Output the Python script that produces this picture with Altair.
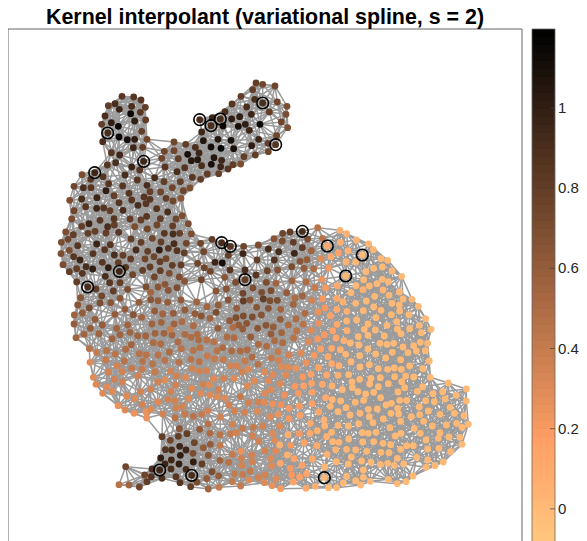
import numpy as np
import pandas as pd
import altair as alt

TITLE = "Kernel interpolant (variational spline, s = 2)"

# Node readings, (x, y, value) in 3x-crop units of the picture, by crop.
ear_left = [(216,109,.85),(251,111,.85),(273,120,.85),(175,137,.8),(195,131,.9),(245,139,.9),(286,142,.8),(208,148,.95),(271,157,.85),(165,168,.9),(242,161,1.15),(287,180,.8),(184,188,1.0),(254,183,1),(155,193,.8),(205,199,1.15),(275,214,.8),(173,219,.9),(207,231,1.15),(158,245,.9),(232,239,1.1),(254,238,1),(291,238,.75),(184,278,.85),(250,263,.95),(209,285,.95),(278,262,.8),(197,308,.9),(172,315,.85),(245,321,.95),(281,304,.95),(269,330,.85)]
ear_right = [(618,69,.8),(638,73,.75),(675,78,.75),(608,89,.8),(573,109,.8),(614,118,.9),(638,129,.9),(682,126,.75),(546,132,.85),(590,141,.9),(711,139,.7),(658,156,.8),(708,163,.7),(525,155,.9),(604,163,.95),(487,173,.95),(511,177,.9),(449,179,.9),(545,177,1.0),(569,170,1),(694,186,.75),(630,193,1.15),(483,197,.9),(519,198,1.15),(565,199,1.1),(586,193,1),(713,203,.7),(598,211,.95),(455,216,.95),(680,227,.75),(626,238,.95),(543,241,1.1),(504,238,1.05),(460,242,1.05),(677,254,.85),(654,250,.8),(605,257,1.0),(372,246,.75),(407,253,.8),(436,262,.9),(483,261,1.1),(513,265,1.2),(551,266,1.1),(655,275,.75),(616,285,.8),(582,290,.8),(343,274,.75),(372,272,.75),(413,283,1.1),(447,279,.95),(492,293,1.05),(443,299,1.05),(424,302,1.05),(515,301,.95),(335,295,.75),(385,296,.8),(350,301,.8),(572,312,.7),(549,314,.8),(534,327,.85),(484,313,1.1),(512,320,.95),(455,317,.9),(345,321,.85),(404,323,.85),(381,335,.9),(472,342,.8),(506,341,.8),(427,352,.85),(452,358,.8)]
head = [(134,338,.95),(96,344,.7),(159,350,.85),(314,353,.9),(225,345,.9),(262,360,.85),(72,379,.75),(100,383,.9),(123,383,.85),(176,371,.85),(218,378,.85),(342,365,.8),(291,376,.9),(391,365,.8),(168,392,1.0),(367,383,.75),(420,384,.7),(141,413,.95),(237,400,.85),(300,395,.8),(332,396,.75),(400,392,.75),(95,417,.9),(59,421,.7),(192,407,.8),(282,411,.85),(348,415,.8),(107,440,.85),(207,428,.85),(245,420,.85),(300,418,.85),(369,423,.75),(264,436,.9),(140,445,.95),(161,444,.85),(180,452,.8),(320,446,.85),(72,452,.75),(219,451,.9),(288,431,.85),(353,456,.9),(65,477,.7),(290,469,.85),(397,467,.7),(150,481,.85),(240,477,.8),(273,480,.8),(117,491,.95),(95,499,.8),(331,476,.8),(193,495,.8),(254,500,.7),(321,495,.75),(292,507,.75),(368,498,.8),(415,491,.7),(47,516,.7),(206,517,.85),(114,520,.8),(135,514,.8),(70,524,.8),(168,519,.8),(343,520,.85),(369,522,.9),(389,520,.8),(279,516,.75),(54,538,.75),(34,547,.7),(243,537,.8),(424,522,.7),(140,552,.95),(181,554,.85),(273,547,.8),(372,551,.9),(409,550,.75),(83,557,.85),(355,565,.85),(164,569,.85),(258,570,.9),(293,574,.8),(328,570,1.0),(33,581,.7),(129,581,.85),(193,585,.9),(403,579,.8),(71,590,.85),(242,597,.8),(219,586,.8),(90,600,.95),(285,597,.75),(348,596,.75),(39,614,.7),(157,607,.85),(108,620,.9),(205,608,.8),(443,610,.75),(128,627,1.0),(58,635,.8),(175,623,1.0),(300,621,.8),(97,640,.85),(208,634,.95),(248,644,.75),(278,631,.8),(331,632,.8),(463,623,.75),(166,649,.9),(358,640,.7),(481,634,.75),(80,666,.8),(179,668,.85),(227,622,.85),(313,651,.75),(388,651,.7),(113,681,.9),(138,687,.8),(324,681,.65),(404,664,.65),(190,693,.8),(233,688,.7),(288,681,.7),(355,691,.65),(381,683,.7),(92,713,.65),(155,708,.75),(210,715,.65),(267,727,.6),(302,719,.65),(324,722,.6),(393,720,.6),(353,727,.6),(150,729,.7),(83,735,.65),(225,748,.6),(293,730,.65),(440,726,.55),(73,765,.55),(97,759,.6),(195,763,.6),(314,753,.6),(370,760,.6),(405,750,.6),(338,762,.55),(275,772,.55),(135,778,.6)]
neck = [(515,548,.9),(541,559,.85),(486,538,.8),(452,550,.75),(581,559,.75),(625,555,.7),(672,536,.65),(697,543,.7),(698,520,.75),(720,516,.8),(757,514,.9),(773,537,.7),(730,547,.8),(655,567,.9),(686,575,.9),(733,580,.95),(757,563,.8),(579,581,.95),(535,586,.8),(461,575,.75),(750,604,.65),(771,599,.6),(621,600,.8),(495,607,.95),(517,609,1.1),(540,630,.85),(652,632,.75),(683,630,.65),(725,620,.7),(762,625,.6),(585,659,.8),(557,667,.7),(524,652,.65),(649,667,.7),(454,659,.75),(609,684,.7),(678,670,.55),(726,662,.55),(529,687,.65),(498,693,.65),(579,700,.75),(635,697,.7),(663,692,.7),(735,714,.5),(757,708,.55),(600,720,.65),(471,740,.55),(505,735,.6),(535,720,.65),(560,745,.6),(692,748,.55),(620,742,.65),(655,745,.65),(730,733,.55),(765,760,.5),(480,775,.55)]
body = [(187,35,.9),(233,23,.45),(150,35,.8),(128,37,.85),(102,55,.8),(128,61,.9),(163,66,.9),(203,57,.55),(248,55,.45),(54,76,.8),(12,79,.85),(85,87,.9),(116,96,.95),(178,83,.75),(8,101,.95),(164,100,.9),(214,92,.55),(262,78,.1),(300,31,.05),(320,41,.05),(301,67,.05),(349,60,.03),(386,72,.02),(400,89,.02),(324,92,.05),(295,99,.15),(273,110,.1),(367,105,0),(243,116,.3),(211,118,.55),(189,124,.6),(51,119,.85),(103,120,.85),(347,126,0),(318,126,.05),(423,116,0),(443,121,0),(221,146,.5),(199,150,.5),(155,142,.7),(267,144,.2),(378,155,0),(401,145,0),(427,141,0),(111,150,.75),(81,152,.75),(15,150,.9),(48,165,.85),(317,168,.02),(456,153,0),(485,169,0),(245,178,.25),(153,183,.65),(198,186,.5),(371,179,0),(427,178,0),(445,185,0),(80,187,.75),(15,180,.9),(45,202,.8),(122,198,.65),(292,197,.1),(257,203,.2),(224,203,.4),(411,191,0),(388,198,0),(348,197,0),(333,218,0),(478,216,0),(93,212,.75),(140,218,.6),(2,217,.85),(447,226,0),(404,229,0),(183,232,.55),(163,235,.6),(215,241,.35),(248,236,.2),(291,235,.1),(516,238,0),(489,237,0),(379,243,0),(309,246,.05),(70,237,.8),(90,242,.7),(112,241,.7),(10,243,.8),(33,255,.7),(154,252,.6),(347,250,0),(456,250,0),(535,259,0),(197,281,.5),(234,276,.25),(255,264,.2),(291,268,.1),(321,274,.05),(423,271,0),(454,284,0),(507,284,0),(479,273,0),(370,272,0),(401,261,0),(122,268,.55),(89,271,.6),(64,285,.65),(10,288,.7),(37,291,.7),(168,297,.5),(271,287,.15),(350,300,0),(320,303,.02),(408,293,0),(384,312,0),(557,296,0),(121,298,.6),(145,315,.5),(190,313,.45),(236,310,.25),(291,313,.1),(441,316,0),(470,305,0),(538,316,0),(509,326,0),(78,316,.65),(100,321,.6),(20,310,.65),(53,325,.65),(8,327,.6),(573,328,0),(214,331,.3),(321,332,.05),(406,330,0),(544,338,0),(483,341,0),(170,333,.45),(125,338,.55),(93,342,.6),(278,332,.15),(253,344,.2),(373,328,0),(355,350,0),(384,346,0),(494,351,0),(433,348,0),(32,351,.6),(161,354,.45),(233,357,.2),(288,354,.1),(312,362,.05),(563,370,0),(541,367,0),(521,377,0),(461,370,0),(420,370,0),(441,373,0),(384,387,0),(104,362,.5),(128,368,.5),(205,365,.3),(55,373,.5),(80,379,.5),(489,381,0),(331,369,0),(357,375,0),(242,387,.15),(275,385,.1),(301,389,.05),(407,402,0),(457,397,0),(504,398,0),(556,392,0),(529,393,0),(317,403,.02),(22,390,.5),(1,393,.5),(114,395,.4),(147,405,.35),(183,399,.3),(359,407,0),(222,406,.2),(264,410,.1),(437,414,0),(482,419,0),(36,411,.5),(94,414,.4),(15,423,.4),(54,433,.45),(116,421,.35),(198,428,.25),(333,425,.02),(568,423,0),(236,443,.15),(275,431,.1),(297,437,.05),(388,434,0),(509,438,0),(360,441,0),(125,440,.3),(145,442,.3),(167,445,.25),(326,437,0),(463,444,0),(443,448,0),(415,446,0),(549,446,0),(6,456,.35),(73,456,.3),(99,464,.3),(188,471,.2),(213,463,.15),(260,465,.1),(294,466,.05),(326,464,0),(521,471,0),(497,468,0),(421,473,0),(393,475,0),(464,470,0),(137,465,.3),(571,472,0),(359,478,0),(22,498,.3),(42,483,.3),(85,482,.3),(120,491,.3),(165,499,.2),(191,498,.15),(215,490,.15),(247,493,.1),(276,498,.05),(625,489,0),(445,491,0),(389,492,0),(336,486,0),(679,507,0),(608,515,0),(579,521,0),(532,514,0),(494,503,0),(474,516,0),(401,517,0),(354,515,0),(307,509,0),(93,509,.3),(75,520,.3),(133,525,.25),(175,520,.2),(216,517,.15),(257,533,.1),(649,526,0),(615,537,0),(557,542,0),(500,541,0),(479,541,0),(422,533,0),(371,541,0),(346,547,0),(302,543,0),(277,539,.02),(679,543,0),(583,545,0),(54,546,.35),(73,547,.3),(98,552,.25),(25,548,.35),(1,530,.4),(147,565,.2),(123,554,.25),(178,558,.2),(216,551,.15),(318,563,0),(630,562,0),(538,561,0),(454,550,0),(13,577,.35),(52,574,.3),(90,590,.3),(114,583,.25),(147,596,.2),(180,586,.15),(236,576,.1),(294,575,0),(330,585,0),(412,567,0),(385,568,0),(360,580,0),(473,565,0),(600,583,0),(514,590,0),(453,580,0),(643,580,0),(672,587,0),(252,600,.05),(211,610,.1),(266,594,.03),(356,611,0),(430,597,0),(399,608,0),(551,604,0),(482,604,0),(523,625,0),(577,618,0),(619,615,0),(650,610,0),(685,613,0),(666,622,0),(40,622,.4),(8,625,.4),(68,618,.35),(119,618,.3),(178,641,.2),(232,632,.05),(210,640,.1),(247,626,.05),(294,616,.02),(325,618,0),(98,640,.3),(38,648,.35),(367,638,0),(408,637,0),(385,640,0),(450,623,0),(483,640,0),(627,651,0),(660,652,0),(558,660,0),(595,655,0),(56,664,.35),(105,661,.3),(192,668,.15),(326,657,0),(297,667,.03),(260,650,.05),(466,648,0),(429,670,0),(401,665,0),(368,666,0),(666,673,0),(520,677,0),(500,677,0),(463,662,0),(75,692,.35),(107,693,.3),(152,676,.2),(231,677,.1),(320,688,.02),(347,690,.02),(287,689,.03),(380,694,0),(632,695,0),(597,685,0),(563,687,0),(482,688,0),(35,705,.35),(162,716,.15),(217,717,.1),(261,703,.05),(423,697,0),(395,690,0),(530,712,0),(563,720,0),(610,726,0),(585,737,0),(92,715,.3),(36,725,.35),(186,736,.15),(151,745,.2),(95,737,.3),(289,725,.02),(393,727,0),(421,733,0),(443,730,0),(463,736,0),(491,732,0),(558,742,0),(370,750,0),(325,732,0),(8,763,.4),(30,753,.4),(55,773,.35),(75,765,.35),(73,788,.3),(108,776,.3),(155,765,.2),(179,771,.15),(200,761,.12),(253,773,.02),(320,769,0),(370,772,0),(347,782,0),(362,795,0),(391,784,0),(445,778,0),(519,768,0),(472,791,0),(498,785,0),(310,789,0),(290,803,0),(266,803,0),(226,799,.05),(198,805,.1),(160,786,.15),(122,806,.2),(96,797,.25),(2,798,.4)]
haunch = [(42,72,.6),(91,85,.6),(127,75,.6),(105,60,.65),(170,85,.55),(203,75,.55),(246,55,.6),(276,72,.55),(342,72,.55),(400,77,.5),(366,65,.5),(312,100,.55),(285,100,.55),(48,113,.55),(72,103,.55),(117,101,.55),(180,104,.55),(156,116,.55),(233,108,.55),(257,108,.55),(336,105,.55),(375,103,.5),(412,103,.5),(474,85,.6),(509,62,.6),(536,75,.6),(440,120,.45),(461,126,.45),(280,128,.5),(302,132,.5),(354,126,.5),(88,146,.45),(140,152,.45),(197,148,.5),(110,158,.4),(166,162,.45),(238,161,.45),(259,165,.45),(328,156,.5),(294,165,.45),(515,153,.5),(488,143,.5),(400,151,.45),(442,168,.4),(537,163,.45),(463,177,.4),(90,187,.3),(137,180,.4),(193,183,.45),(248,184,.45),(315,181,.45),(357,187,.45),(393,178,.45),(418,185,.45),(172,197,.35),(215,205,.4),(511,197,.35),(532,198,.35),(146,216,.35),(186,215,.35),(246,208,.4),(285,216,.4),(332,213,.35),(396,206,.35),(440,212,.35),(418,213,.35),(100,232,.3),(163,238,.35),(233,228,.35),(293,246,.35),(315,240,.3),(349,228,.35),(376,232,.3),(491,235,.35),(522,235,.3),(461,236,.3),(108,253,.3),(141,260,.3),(187,246,.35),(241,275,.35),(272,268,.35),(429,253,.35),(395,265,.3),(347,255,.35),(128,280,.3),(157,274,.3),(333,274,.35),(475,269,.35),(495,295,.3),(449,285,.3),(540,300,.3),(200,288,.3),(223,296,.3),(293,306,.3),(323,298,.35),(385,296,.3),(345,302,.35),(246,313,.35),(174,317,.25),(195,330,.3),(222,340,.25),(258,335,.25),(348,324,.35),(368,319,.35),(507,315,.35),(523,333,.35),(555,337,.3),(260,354,.25),(308,342,.35),(345,353,.45),(375,342,.4),(400,349,.45),(425,343,.4),(481,351,.35),(444,372,.45),(358,386,.65),(419,388,.6),(306,410,.8),(381,401,.8),(355,409,.8),(331,421,.75),(450,400,.5),(480,404,.45),(511,402,.4),(529,398,.35),(517,373,.35),(403,428,.75),(451,433,.6),(430,443,.6),(316,449,.85),(335,450,.9),(359,439,.95),(378,450,.95),(361,466,1),(302,474,1.0),(334,480,.95),(399,460,.7),(445,466,.65),(517,463,.4),(480,481,.55),(506,487,.45),(315,492,.95),(357,492,1.0),(400,486,1.0),(426,492,.8),(197,500,.75),(276,507,.9),(299,510,.95),(333,507,.9),(378,508,.9),(545,496,.35),(456,515,.7),(395,526,.9),(254,525,.75),(274,530,.85),(348,530,.85),(476,528,.6),(524,522,.4),(306,535,.9),(261,545,.8),(360,548,.85),(440,536,.6),(411,547,.7),(517,545,.4),(567,540,.3),(177,554,.45),(207,555,.55),(238,561,.75),(392,560,.8),(445,567,.55),(543,560,.35),(574,512,.3),(576,465,.35),(544,475,.35)]
mid_upper = [(12,7,.5),(47,3,.5),(75,11,.6),(94,18,.65),(138,7,.7),(198,23,.7),(218,18,.7),(246,20,.7),(274,15,.7),(178,32,.55),(232,42,.6),(10,42,.5),(38,36,.55),(135,42,.55),(70,48,.55),(189,52,.5),(219,57,.55),(287,45,.6),(330,30,.45),(354,44,.4),(376,32,.3),(304,72,.4),(337,52,.4),(364,60,.35),(52,62,.45),(141,66,.5),(1,58,.4),(36,78,.5),(63,82,.5),(86,90,.5),(110,91,.5),(133,97,.5),(171,81,.5),(192,83,.5),(243,81,.5),(317,90,.35),(338,82,.3),(375,83,.3),(24,95,.45),(265,103,.4),(172,110,.45),(290,108,.35),(34,116,.45),(90,113,.45),(1,125,.4),(141,122,.45),(186,123,.45),(327,126,.3),(112,138,.45),(68,141,.45),(207,134,.4),(246,142,.3),(357,134,.3),(302,143,.35),(26,156,.4),(134,157,.4),(160,149,.4),(90,159,.4),(225,160,.3),(334,153,.25),(355,171,.25),(376,174,.2),(5,168,.35),(60,176,.4),(206,168,.35),(234,177,.3),(262,171,.3),(106,185,.35),(83,190,.35),(215,186,.3),(284,188,.25),(309,194,.25),(346,197,.2),(22,198,.35),(47,203,.35),(134,206,.3),(163,197,.35),(254,213,.3),(297,213,.25),(27,220,.35),(103,215,.35),(194,218,.3),(231,228,.3),(327,222,.2),(373,232,.15),(118,224,.3),(144,238,.3),(304,240,.25),(279,245,.25),(342,255,.2),(5,244,.35),(92,250,.3),(120,257,.3),(165,262,.3),(211,248,.3),(264,265,.25),(53,264,.35),(142,260,.3)]
mid_lower = [(17,24,.45),(37,19,.45),(2,6,.4),(15,52,.35),(45,39,.4),(95,43,.35),(113,32,.35),(150,50,.35),(178,18,.3),(200,47,.3),(219,32,.25),(263,38,.2),(282,8,.2),(300,50,.15),(324,43,.15),(210,5,.25),(118,73,.45),(90,87,.55),(53,100,.7),(28,87,.6),(187,72,.25),(253,83,.15),(279,77,.15),(329,77,.1),(312,12,.1),(352,22,.1),(381,16,.05),(120,100,.5),(151,104,.4),(179,102,.35),(205,98,.3),(306,102,.1),(74,127,.7),(27,114,.75),(1,120,.8),(122,132,.5),(150,136,.4),(236,111,.2),(265,123,.15),(354,104,.05),(385,98,.05),(5,148,.9),(29,140,.85),(47,149,.95),(77,160,.8),(100,143,.7),(187,162,.35),(213,154,.25),(285,153,.1),(329,135,.05),(33,166,.95),(8,178,1.0),(69,186,.95),(27,192,.95),(150,179,.45),(96,192,.7),(176,186,.35),(212,176,.25),(246,165,.15),(305,172,.1),(352,165,.05),(373,179,.03),(5,206,1.0),(125,215,.6),(215,201,.25),(250,188,.15),(303,195,.1),(331,190,.1),(18,230,.9),(65,226,.9),(145,228,.45),(187,213,.3),(246,213,.15),(284,224,.1),(360,205,.05),(110,236,.6),(80,246,.7),(187,245,.35),(236,241,.2),(264,233,.15),(318,236,.1),(363,225,.05),(382,225,.05),(62,259,.75),(121,265,.55),(213,257,.3),(147,262,.4),(283,252,.15),(304,261,.1),(331,263,.1),(368,247,.03)]
right_upper = [(17,6,.4),(43,22,.3),(78,20,.2),(65,2,.3),(112,17,.15),(166,17,.05),(207,20,.05),(231,10,.02),(264,6,.02),(4,52,.45),(34,61,.25),(68,56,.2),(111,55,.15),(153,38,.1),(189,29,.05),(249,30,.03),(297,36,.01),(224,47,.02),(267,44,.02),(130,65,.1),(168,70,.05),(199,64,.03),(228,75,.02),(263,68,.02),(298,75,0),(309,57,0),(337,59,0),(354,78,0),(17,101,.35),(54,96,.3),(76,85,.2),(93,106,.15),(111,87,.15),(141,92,.1),(196,95,.03),(242,90,.02),(275,93,.02),(325,103,0),(377,115,0),(25,127,.3),(67,130,.2),(110,133,.15),(139,123,.1),(170,120,.05),(198,125,.03),(227,112,.02),(264,123,.02),(305,119,0),(360,135,0),(394,148,0),(34,152,.25),(72,164,.2),(141,152,.1),(229,138,.02),(292,147,0),(330,145,0),(365,158,0),(25,184,.3),(54,178,.2),(110,174,.1),(134,180,.08),(177,170,.03),(205,166,.03),(263,159,.01),(316,170,0),(168,188,.03),(241,188,.02),(261,193,.01),(295,185,0),(361,187,0),(382,191,0),(63,206,.2),(96,206,.1),(122,209,.08),(201,206,.02),(340,197,0),(374,212,0),(5,219,.35),(44,227,.2),(84,230,.1),(139,224,.03),(178,228,.03),(225,221,.01),(277,218,0),(297,227,0),(334,221,0),(388,242,0),(18,249,.3),(99,251,.05),(120,259,.04),(150,257,.03),(207,255,.01),(263,237,0),(330,258,0),(236,267,0),(259,267,0),(280,265,0),(304,268,0),(370,266,0),(56,264,.15),(34,283,.2),(79,286,.08),(115,285,.03),(147,284,.02),(178,290,.01),(214,295,0),(255,302,0),(283,290,0),(318,288,0),(341,293,0),(392,294,0),(8,291,.25),(69,314,.1),(126,318,.02),(157,323,.01),(200,315,0),(235,320,0),(305,305,0),(368,320,0),(29,307,.2)]
right_lower = [(34,13,.05),(76,23,.03),(37,41,.05),(91,49,.02),(124,34,.01),(153,46,.01),(176,7,0),(197,12,0),(222,8,0),(241,23,0),(190,32,0),(164,32,0),(268,36,0),(300,30,0),(320,33,0),(288,50,0),(352,5,0),(398,11,0),(431,4,0),(469,16,0),(500,2,0),(376,34,0),(402,36,0),(435,35,0),(499,33,0),(351,51,0),(231,57,0),(258,45,0),(451,52,0),(56,65,.04),(114,64,.01),(150,75,0),(208,80,0),(274,70,0),(296,72,0),(334,79,0),(359,74,0),(385,63,0),(422,73,0),(466,65,0),(493,76,0),(86,85,.02),(61,90,.04),(249,88,0),(220,97,0),(303,99,0),(372,96,0),(505,103,0),(31,100,.08),(117,93,.01),(176,101,0),(398,107,0),(439,108,0),(475,108,0),(74,108,.03),(52,124,.05),(128,114,0),(152,116,0),(264,117,0),(342,115,0),(95,127,.02),(33,130,.08),(187,126,0),(228,127,0),(208,135,0),(361,130,0),(420,128,0),(481,141,0),(147,147,0),(284,144,0),(382,146,0),(414,146,0),(447,142,0),(14,157,.08),(98,155,.02),(190,157,0),(222,156,0),(250,156,0),(272,164,0),(318,163,0),(339,169,0),(486,163,0),(52,167,.04),(141,178,0),(107,180,.01),(164,180,0),(187,189,0),(206,183,0),(241,183,0),(302,177,0),(382,177,0),(417,176,0),(454,186,0),(81,195,.02),(267,188,0),(38,207,.05),(154,201,0),(185,213,0),(292,205,0),(350,202,0),(108,214,.01),(215,218,0),(264,220,0),(378,210,0),(405,227,0),(429,216,0),(8,226,.08),(74,231,.01),(152,226,0),(284,226,0),(312,222,0),(380,232,0),(190,240,0),(21,252,.05),(190,261,0),(141,260,0),(339,257,0),(167,270,0),(211,273,0),(265,268,0),(318,275,0),(131,279,0),(183,287,0),(291,282,0),(18,294,.05),(45,289,.04),(85,292,.01),(110,293,.01)]
left_low = [(27,14,.65),(50,7,.75),(27,42,.6),(92,31,.75),(149,11,.7),(205,14,.65),(231,25,.6),(270,5,.65),(300,10,.6),(326,11,.6),(76,53,.6),(113,45,.6),(188,45,.6),(262,42,.65),(289,37,.55),(320,48,.55),(33,83,.55),(56,74,.55),(103,71,.55),(155,56,.6),(195,67,.55),(141,87,.65),(165,75,.55),(219,78,.55),(241,78,.6),(270,72,.55),(297,69,.55),(326,70,.5),(266,96,.5),(199,104,.55),(287,103,.55),(73,116,.45),(125,122,.55),(95,129,.5),(151,132,.5),(183,118,.5),(222,130,.55),(243,134,.5),(279,135,.5),(314,122,.5),(121,149,.45),(178,152,.5),(232,153,.5),(300,150,.5),(75,158,.3),(157,168,.45),(199,166,.45),(263,162,.45),(327,159,.45),(132,187,.4),(170,186,.45),(230,178,.45),(271,187,.4),(318,184,.4),(86,202,.4),(218,200,.4),(149,209,.4),(172,216,.4),(278,214,.4),(301,211,.4),(93,223,.35),(126,232,.4),(258,238,.4),(226,246,.35),(143,244,.35),(114,250,.3),(311,241,.35),(185,258,.35),(207,266,.35),(277,275,.35),(304,268,.3),(232,283,.3),(159,286,.3),(180,299,.3),(207,309,.3),(243,322,.3),(295,313,.35),(258,298,.3)]
head_fill = [(66,14,.7),(104,8,.95),(195,15,.9),(243,1,.85),(285,24,.85),(232,30,.85),(43,48,.75),(69,53,.85),(92,28,.85),(93,53,.9),(146,41,.85),(188,47,1.0),(261,46,1.05),(311,35,.85),(350,6,.85),(140,62,1.05),(208,69,.85),(268,65,.8),(252,79,.85),(300,63,.8),(365,33,.8),(369,62,.7),(30,91,.65),(66,86,.9),(111,83,1.0),(165,75,.85),(277,85,.8),(319,86,.8),(340,93,.8),(363,85,.65),(177,98,.85),(216,95,.85),(258,100,.85),(234,105,.9),(78,110,.85),(42,119,.8),(111,116,.95),(130,113,.9),(150,121,.85),(188,122,1.05),(291,116,1.0),(308,127,.85),(330,125,.85),(34,146,.75),(121,151,.85),(162,146,.85),(210,134,.8),(260,139,.9),(243,150,.85),(348,147,.75),(87,160,1.0),(66,170,.8),(143,170,.9),(225,169,.8),(267,172,.85),(289,163,.85),(330,163,.8),(374,165,.8),(385,163,.7),(17,185,.65),(40,194,.7),(84,190,.9),(107,186,.8),(177,186,1.0),(250,185,.75),(313,190,1.0),(340,193,.85),(361,190,.85),(125,199,.8),(23,207,.75),(212,208,.8),(277,205,.75),(303,216,.8),(5,218,.7),(111,223,.95),(54,227,1.05),(151,225,.8),(243,217,.85),(332,217,.85),(355,218,.9),(381,218,1.0),(28,241,.7),(133,239,1.0),(228,240,1.0),(262,243,.85),(297,240,1.05),(322,239,.9),(351,242,.85),(376,237,.9),(6,250,.7),(97,252,.85),(190,246,.85),(41,260,.85),(166,259,.85),(221,270,.85),(318,262,.8),(282,260,.75),(60,270,.95),(128,278,.8),(8,284,.7),(193,280,.8),(300,275,.8),(337,286,.8),(77,291,.95),(98,296,.95),(50,296,.8),(160,290,.85),(247,301,.85),(272,293,.85),(25,300,.8),(178,304,.95),(300,303,.75),(363,285,.8),(69,310,.9),(217,313,.85),(138,320,1.0),(322,311,.75),(285,322,.7),(52,337,.75),(180,338,.8),(150,340,.9),(375,335,.7),(84,350,.9),(107,356,.8),(247,344,.75),(203,358,.75),(315,343,.65),(293,351,.6),(350,353,.6),(160,365,.75),(125,378,.75),(60,382,.6),(272,367,.55),(316,364,.6),(152,398,.65),(180,384,.7),(120,398,.65),(54,402,.6),(237,398,.5),(270,393,.5),(295,392,.5),(315,399,.45),(88,414,.7)]

# Crop origins of the readings above.
crop_top = (50, 60)
crop_right = (240, 220)
crop_low = (60, 300)
crop_mid_upper = (170, 310)
crop_mid_lower = (170, 400)
crop_right_upper = (300, 280)
crop_right_lower = (300, 390)
crop_left_low = (65, 310)
crop_head_fill = (60, 170)

ring_top = [(173,219),(134,338),(281,304),(113,681),(208,634),(449,179),(483,197),(511,177),(638,129),(677,254),(515,548),(541,559),(585,659),(757,514)]
ring_right = [(262,78),(367,105),(317,168),(253,773)]
ring_low = [(299,510),(395,526)]

TICKS = [0, 0.2, 0.4, 0.6, 0.8, 1]
TICK_TEXT = ["0", "0.2", "0.4", "0.6", "0.8", "1"]
V_MAX, V_KNEE, V_MIN = 1.197, 0.168, -0.09
BAR_LOW = -0.125

def place(rows, origin):
    return [(origin[0] + r[0] / 3, origin[1] + r[1] / 3) + tuple(r[2:]) for r in rows]

raw = (place(ear_left + ear_right + head + neck, crop_top)
       + place(body, crop_right) + place(haunch, crop_low)
       + place(mid_upper, crop_mid_upper) + place(mid_lower, crop_mid_lower)
       + place(right_upper, crop_right_upper) + place(right_lower, crop_right_lower)
       + place(left_low, crop_left_low) + place(head_fill, crop_head_fill))
kept = []
for p in raw:
    if all((p[0]-q[0])**2 + (p[1]-q[1])**2 >= 5.5**2 for q in kept):
        kept.append(p)
nodes = pd.DataFrame(kept, columns=["x", "y", "v"])

xy = nodes[["x", "y"]].to_numpy()
d = np.hypot(*(xy[:, None, :] - xy[None, :, :]).transpose(2, 0, 1))
ii, jj = np.where(np.triu(d < 28, 1))
edges = pd.DataFrame({"x": xy[ii, 0], "y": xy[ii, 1], "x2": xy[jj, 0], "y2": xy[jj, 1]})

rings = pd.DataFrame(place(ring_top, crop_top) + place(ring_right, crop_right) + place(ring_low, crop_low),
                     columns=["x", "y"])

color_scale = alt.Scale(domain=[V_MIN, V_KNEE, V_MAX], range=["#ffc77f", "#ff9f65", "#000000"],
                        interpolate="rgb", clamp=True)
xs = alt.Scale(domain=[8, 579], nice=False, zero=False)
ys = alt.Scale(domain=[559, 29], nice=False, zero=False)
bar_y = alt.Scale(domain=[BAR_LOW, V_MAX], nice=False, zero=False)

one = pd.DataFrame({"k": [0]})
PX = dict(box_l=0, box_r=514, bar_l=524, bar_r=547, tick_l=542, label=550, top=0, bottom=530)

edge_layer = alt.Chart(edges).mark_rule(color="#9b9b9b", strokeWidth=1.5).encode(
    x=alt.X("x:Q", scale=xs, axis=None), y=alt.Y("y:Q", scale=ys, axis=None), x2="x2:Q", y2="y2:Q")
node_layer = alt.Chart(nodes).mark_circle(size=46, opacity=1).encode(
    x=alt.X("x:Q", scale=xs, axis=None), y=alt.Y("y:Q", scale=ys, axis=None),
    color=alt.Color("v:Q", scale=color_scale, legend=None))
ring_layer = alt.Chart(rings).mark_point(size=135, filled=False, color="#000000", strokeWidth=1.6, opacity=1).encode(
    x=alt.X("x:Q", scale=xs, axis=None), y=alt.Y("y:Q", scale=ys, axis=None))
box_layer = alt.Chart(one).mark_rect(fill=None, stroke="#666666", strokeWidth=1).encode(
    x=alt.value(PX["box_l"]), x2=alt.value(PX["box_r"]), y=alt.value(PX["top"]), y2=alt.value(PX["bottom"]))
title_layer = alt.Chart(pd.DataFrame({"t": [TITLE]})).mark_text(
    font="Liberation Sans", fontSize=21.4, fontWeight="bold", color="#000000", align="center", baseline="alphabetic"
).encode(x=alt.value(257), y=alt.value(-5), text="t:N")

main = alt.layer(edge_layer, node_layer, ring_layer, box_layer, title_layer)

# One band per 8 px of the colour bar, as in the reference's stepped colormap.
band_step = 8 * (V_MAX - BAR_LOW) / PX["bottom"]
edges_bar = np.append(np.arange(V_MAX, BAR_LOW, -band_step), BAR_LOW)
bands = pd.DataFrame({"hi": edges_bar[:-1], "lo": edges_bar[1:], "mid": (edges_bar[:-1] + edges_bar[1:]) / 2})
band_layer = alt.Chart(bands).mark_rect().encode(
    x=alt.value(PX["bar_l"]), x2=alt.value(PX["bar_r"]),
    y=alt.Y("hi:Q", scale=bar_y, axis=None), y2="lo:Q",
    color=alt.Color("mid:Q", scale=color_scale, legend=None))
tick_df = pd.DataFrame({"t": TICKS, "s": TICK_TEXT})
tick_layer = alt.Chart(tick_df).mark_rule(color="#404040", strokeWidth=0.7).encode(
    y=alt.Y("t:Q", scale=bar_y, axis=None), x=alt.value(PX["tick_l"]), x2=alt.value(PX["bar_r"]))
label_layer = alt.Chart(tick_df).mark_text(
    font="Liberation Sans", fontSize=15, color="#262626", align="left", baseline="middle"
).encode(y=alt.Y("t:Q", scale=bar_y, axis=None), x=alt.value(PX["label"]), text="s:N")
bar_box = alt.Chart(one).mark_rect(fill=None, stroke="#666666", strokeWidth=0.8).encode(
    x=alt.value(PX["bar_l"]), x2=alt.value(PX["bar_r"]), y=alt.value(PX["top"]), y2=alt.value(PX["bottom"]))
colorbar = alt.layer(band_layer, tick_layer, label_layer, bar_box)

chart = (alt.layer(main, colorbar)
         .resolve_scale(y="independent")
         .properties(width=571, height=530,
                     autosize=alt.AutoSizeParams(type="none"),
                     padding={"left": 0, "right": 0, "top": 21, "bottom": 0})
         .configure_view(stroke=None))
chart.save("out.html", embed_options={"renderer": "svg", "actions": False})
